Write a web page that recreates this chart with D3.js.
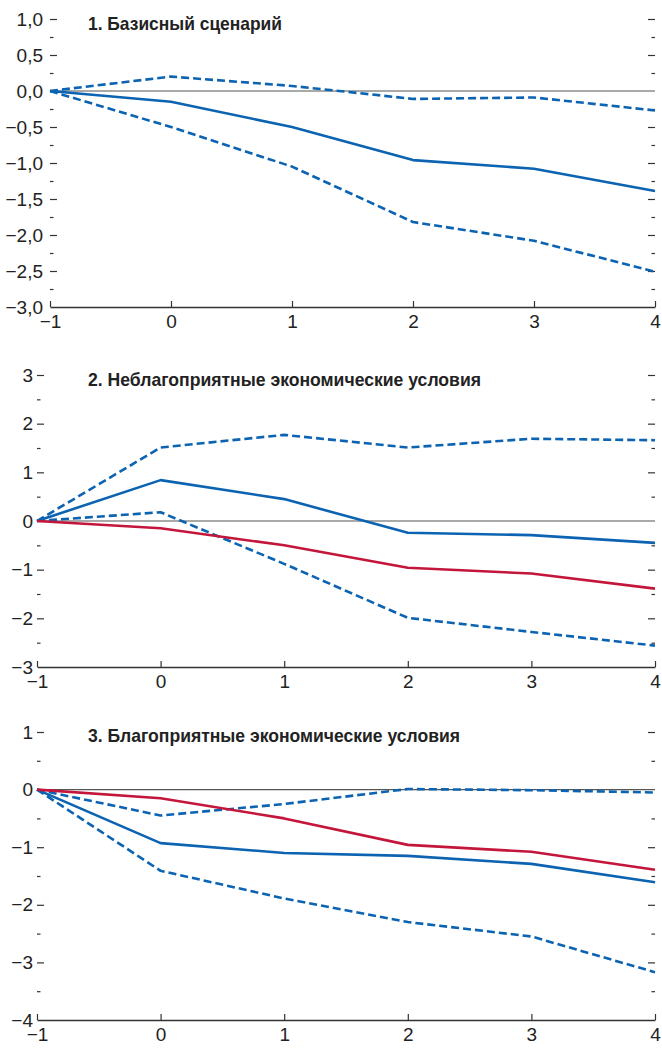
<!DOCTYPE html>
<html lang="ru">
<head>
<meta charset="utf-8">
<script src="https://cdn.jsdelivr.net/npm/d3@7"></script>
<style>
  html, body { margin: 0; padding: 0; background: #fff; }
  svg { display: block; }
</style>
</head>
<body>
<svg id="chart" width="662" height="1051"></svg>
<script>
// Horizon (quarters) on the x axis
const horizons = [-1, 0, 1, 2, 3, 4];

// 1. Baseline scenario: central path and confidence bounds
const baseMid = [0, -0.15, -0.50, -0.96, -1.08, -1.39];
const baseHi  = [0, 0.20, 0.07, -0.11, -0.09, -0.27];
const baseLo  = [0, -0.50, -1.05, -1.82, -2.08, -2.51];

// 2. Adverse economic conditions
const advMid = [0, 0.84, 0.45, -0.24, -0.29, -0.45];
const advHi  = [0, 1.51, 1.77, 1.51, 1.69, 1.66];
const advLo  = [0, 0.18, -0.88, -1.99, -2.28, -2.56];

// 3. Favourable economic conditions
const favMid = [0, -0.93, -1.10, -1.15, -1.29, -1.61];
const favHi  = [0, -0.45, -0.25, 0.01, -0.01, -0.05];
const favLo  = [0, -1.41, -1.89, -2.30, -2.55, -3.17];

// Panel titles and y tick labels
const titles = [
  "1. Базисный сценарий",
  "2. Неблагоприятные экономические условия",
  "3. Благоприятные экономические условия"
];
const yTicks1 = [1.0, 0.5, 0.0, -0.5, -1.0, -1.5, -2.0, -2.5, -3.0];
const yTicks2 = [3, 2, 1, 0, -1, -2, -3];
const yTicks3 = [1, 0, -1, -2, -3, -4];

const BLUE = "#0b63b1";
const RED = "#c4153b";
const AXIS = "#333";
const FONT = "'Liberation Sans', Arial, Helvetica, sans-serif";

const svg = d3.select("#chart");

const fmtComma = d => (d < 0 ? "\u2212" : "") + Math.abs(d).toFixed(1).replace(".", ",");
const fmtInt = d => (d < 0 ? "\u2212" : "") + Math.abs(d);

const styleLabels = sel => sel.selectAll(".tick text")
  .style("font-family", FONT).style("font-size", "19px").style("fill", "#222");

const panels = [
  {
    title: titles[0], titleY: 30, titleW: 194,
    x0: 50, x1: 655, yTop: 19, yBot: 307, domain: [-3, 1],
    ticks: yTicks1, fmt: fmtComma, labelPad: 7,
    series: [
      { values: baseHi, color: BLUE, dashed: true },
      { values: baseLo, color: BLUE, dashed: true },
      { values: baseMid, color: BLUE, dashed: false }
    ]
  },
  {
    title: titles[1], titleY: 386, titleW: 393,
    x0: 37, x1: 655, yTop: 375, yBot: 667, domain: [-3, 3],
    ticks: yTicks2, fmt: fmtInt, labelPad: 4,
    series: [
      { values: advHi, color: BLUE, dashed: true },
      { values: advLo, color: BLUE, dashed: true },
      { values: advMid, color: BLUE, dashed: false },
      { values: baseMid, color: RED, dashed: false }
    ]
  },
  {
    title: titles[2], titleY: 742, titleW: 372,
    x0: 37, x1: 655, yTop: 732, yBot: 1020, domain: [-4, 1],
    ticks: yTicks3, fmt: fmtInt, labelPad: 4,
    series: [
      { values: favHi, color: BLUE, dashed: true },
      { values: favLo, color: BLUE, dashed: true },
      { values: favMid, color: BLUE, dashed: false },
      { values: baseMid, color: RED, dashed: false }
    ]
  }
];

panels.forEach(p => {
  const g = svg.append("g");
  const x = d3.scaleLinear().domain([-1, 4]).range([p.x0, p.x1]);
  const y = d3.scaleLinear().domain(p.domain).range([p.yBot, p.yTop]);

  // minor tick positions halfway between labelled ticks
  const minor = p.ticks.slice(1).map((t, i) => (t + p.ticks[i]) / 2);

  // left axis: inward ticks with labels
  const left = g.append("g").attr("transform", `translate(${p.x0},0)`)
    .call(d3.axisLeft(y).tickValues(p.ticks.filter(t => t !== p.domain[0]))
      .tickFormat(p.fmt).tickSizeInner(-7).tickSizeOuter(0).tickPadding(p.labelPad))
    .call(styleLabels);
  left.select(".domain").remove();
  left.selectAll(".tick line").attr("stroke", AXIS).attr("stroke-width", 1.2);

  // label for the lowest value, sitting on the bottom axis
  g.append("g").attr("transform", `translate(${p.x0},0)`)
    .call(d3.axisLeft(y).tickValues([p.domain[0]]).tickFormat(p.fmt)
      .tickSizeInner(0).tickSizeOuter(0).tickPadding(p.labelPad))
    .call(styleLabels)
    .call(s => s.select(".domain").remove());

  const leftMinor = g.append("g").attr("transform", `translate(${p.x0},0)`)
    .call(d3.axisLeft(y).tickValues(minor).tickFormat("").tickSizeInner(-3.5).tickSizeOuter(0));
  leftMinor.select(".domain").remove();
  leftMinor.selectAll(".tick line").attr("stroke", AXIS).attr("stroke-width", 1.2);

  // right axis: inward ticks only
  const right = g.append("g").attr("transform", `translate(${p.x1},0)`)
    .call(d3.axisRight(y).tickValues(p.ticks.filter(t => t !== p.domain[0] && t !== 0))
      .tickFormat("").tickSizeInner(-7).tickSizeOuter(0));
  right.select(".domain").remove();
  right.selectAll(".tick line").attr("stroke", AXIS).attr("stroke-width", 1.2);

  const rightMinor = g.append("g").attr("transform", `translate(${p.x1},0)`)
    .call(d3.axisRight(y).tickValues(minor).tickFormat("").tickSizeInner(-3.5).tickSizeOuter(0));
  rightMinor.select(".domain").remove();
  rightMinor.selectAll(".tick line").attr("stroke", AXIS).attr("stroke-width", 1.2);

  // zero line
  g.append("line")
    .attr("x1", p.x0).attr("x2", p.x1)
    .attr("y1", y(0)).attr("y2", y(0))
    .attr("stroke", "#555").attr("stroke-width", 1.2);

  // bottom axis with upward ticks
  const bottom = g.append("g").attr("transform", `translate(0,${p.yBot})`)
    .call(d3.axisBottom(x).tickValues(horizons).tickFormat(fmtInt)
      .tickSizeInner(-6).tickSizeOuter(0).tickPadding(8))
    .call(styleLabels);
  bottom.select(".domain").attr("stroke", AXIS).attr("stroke-width", 1.6);
  bottom.selectAll(".tick line").attr("stroke", AXIS).attr("stroke-width", 1.2);

  // series lines
  const line = d3.line().x((d, i) => x(horizons[i])).y(d => y(d));
  p.series.forEach(s => {
    g.append("path")
      .datum(s.values)
      .attr("d", line)
      .attr("fill", "none")
      .attr("stroke", s.color)
      .attr("stroke-width", 2.6)
      .attr("stroke-linejoin", "round")
      .attr("stroke-dasharray", s.dashed ? "8,4" : null);
  });

  // panel title
  g.append("text")
    .attr("x", 88).attr("y", p.titleY)
    .attr("textLength", p.titleW)
    .attr("lengthAdjust", "spacingAndGlyphs")
    .style("font-family", FONT).style("font-weight", "bold")
    .style("font-size", "19px").style("fill", "#222")
    .text(p.title);
});
</script>
</body>
</html>
